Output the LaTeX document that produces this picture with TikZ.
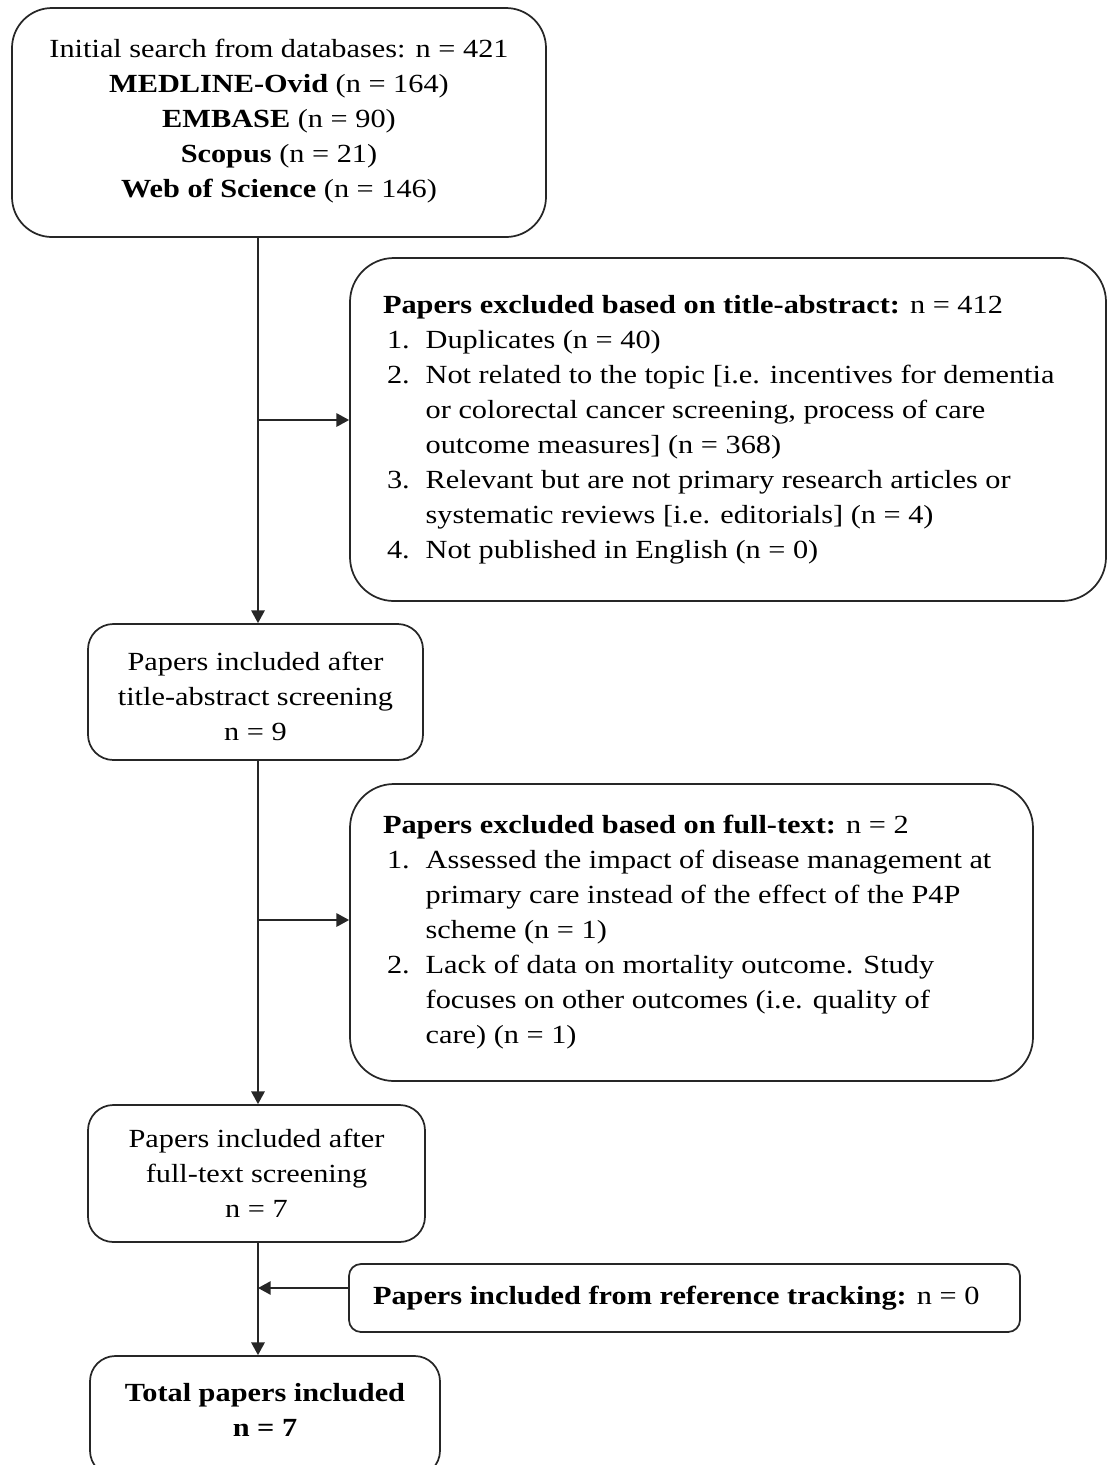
\documentclass[tikz,border=0pt]{standalone}
\usepackage{fontspec}
\setmainfont[FakeStretch=1.16]{Liberation Serif}
\usetikzlibrary{positioning,arrows.meta}

\newlength{\lblwd}
\setlength{\lblwd}{29pt}
\newcommand{\lbl}[1]{\hspace*{3pt}\makebox[\lblwd][l]{#1}}
\newcommand{\cont}{\hspace*{32pt}}

\begin{document}
\begin{tikzpicture}[
  x=0.75pt, y=-0.75pt,
  every node/.style={font=\fontsize{19.6}{26.25}\selectfont},
  stagebox/.style={draw=black!85, line width=1.3pt, rounded corners=19pt,
                   align=center, inner sep=0pt},
  exclbox/.style={draw=black!85, line width=1.3pt, rounded corners=33pt,
                  align=flush left, inner xsep=24.75pt, inner ysep=0pt},
  flow/.style={-{Triangle[length=9.5pt,width=10pt]}, line width=1.3pt, draw=black!85},
]
\clip (0,0) rectangle (1107,1465);

% Search and screening stages
\node[stagebox, rounded corners=30pt, minimum width=400.5pt, minimum height=171.75pt]
  (search) at (279,122.5) {};
\node[align=center] (searchtxt) at (279,121)
  {Initial search from databases: n = 421\\
   \textbf{MEDLINE-Ovid} (n = 164)\\
   \textbf{EMBASE} (n = 90)\\
   \textbf{Scopus} (n = 21)\\
   \textbf{Web of Science} (n = 146)};
\node[stagebox, minimum width=251.25pt, minimum height=102pt] (afterta) at (255.5,692) {};
\node[align=center] (aftertatxt) at (255.5,696)
  {Papers included after\\ title-abstract screening\\ n = 9};
\node[stagebox, minimum width=252.75pt, minimum height=102.75pt] (afterft) at (256.5,1173.5)
  {Papers included after\\ full-text screening\\ n = 7};
\node[stagebox, minimum width=262.5pt, minimum height=90pt] (total) at (265,1416) {};
\node[align=center, font=\fontsize{19.6}{26.25}\selectfont\bfseries] (totaltxt) at (265,1410)
  {Total papers included\\ n = 7};

% Exclusion boxes
\node[exclbox, text width=517.5pt, minimum height=257.25pt] (exclta) at (728,429.5)
  {\textbf{Papers excluded based on title-abstract:} n = 412\\
   \lbl{1.}Duplicates (n = 40)\\
   \lbl{2.}Not related to the topic [i.e. incentives for dementia\\
   \cont or colorectal cancer screening, process of care\\
   \cont outcome measures] (n = 368)\\
   \lbl{3.}Relevant but are not primary research articles or\\
   \cont systematic reviews [i.e. editorials] (n = 4)\\
   \lbl{4.}Not published in English (n = 0)};
\node[exclbox, text width=462.75pt, minimum height=222.75pt] (exclft) at (691.5,932.5)
  {\textbf{Papers excluded based on full-text:} n = 2\\
   \lbl{1.}Assessed the impact of disease management at\\
   \cont primary care instead of the effect of the P4P\\
   \cont scheme (n = 1)\\
   \lbl{2.}Lack of data on mortality outcome. Study\\
   \cont focuses on other outcomes (i.e. quality of\\
   \cont care) (n = 1)};
\node[exclbox, rounded corners=9pt, inner xsep=18pt, text width=467.25pt, minimum height=51pt]
  (reftrack) at (684.5,1298)
  {\textbf{Papers included from reference tracking:} n = 0};

% Branch points on the main line
\coordinate (b1) at (258,420);
\coordinate (b2) at (258,920);
\coordinate (b3) at (258,1288);

% Main flow
\draw[flow] (search.south -| b1) -- (afterta.north -| b1);
\draw[flow] (afterta.south -| b2) -- (afterft.north -| b2);
\draw[flow] (afterft.south -| b3) -- (total.north -| b3);

% Side flows
\draw[flow] (b1) -- (b1 -| exclta.west);
\draw[flow] (b2) -- (b2 -| exclft.west);
\draw[flow] (reftrack.west |- b3) -- (b3);

\end{tikzpicture}
\end{document}
